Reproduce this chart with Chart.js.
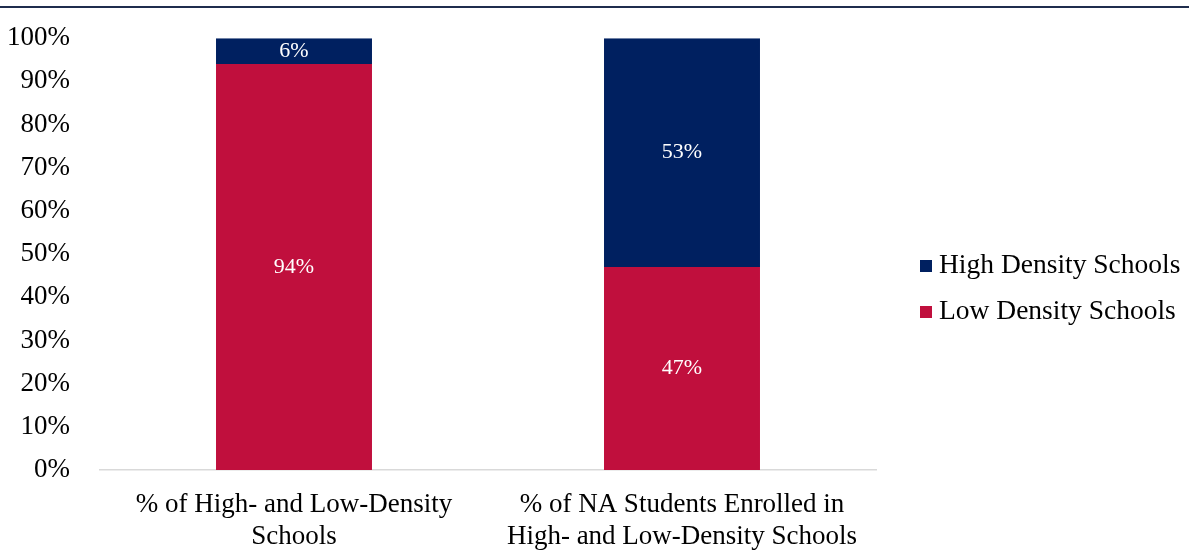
<!DOCTYPE html>
<html>
<head>
<meta charset="utf-8">
<script src="https://cdn.jsdelivr.net/npm/chart.js@4/dist/chart.umd.min.js"></script>
<style>
  html, body { margin: 0; padding: 0; background: #fff; }
  #wrap { position: relative; width: 1189px; height: 552px; }
</style>
</head>
<body>
<div id="wrap"><canvas id="myChart" width="1189" height="552"></canvas></div>
<script>
// categories and stacked shares (percent)
categories = [
  ['% of High- and Low-Density', 'Schools'],
  ['% of NA Students Enrolled in', 'High- and Low-Density Schools']
];
low_density = [94, 47];
high_density = [6, 53];
y_ticks = [0, 10, 20, 30, 40, 50, 60, 70, 80, 90, 100];

const FONT = "'Liberation Serif', 'Times New Roman', serif";
const LOW_COLOR = '#C00F3D';
const HIGH_COLOR = '#002060';

// white value labels centred in each segment
const segmentLabels = {
  id: 'segmentLabels',
  afterDatasetsDraw(chart) {
    const ctx = chart.ctx;
    ctx.save();
    ctx.fillStyle = '#fff';
    ctx.font = '22px ' + FONT;
    ctx.textAlign = 'center';
    ctx.textBaseline = 'middle';
    chart.data.datasets.forEach(function(ds, i) {
      chart.getDatasetMeta(i).data.forEach(function(bar, j) {
        const mid = (bar.y + bar.base) / 2;
        ctx.fillText(ds.data[j] + '%', bar.x, mid);
      });
    });
    ctx.restore();
  }
};

// legend on the right, high density listed first
const sideLegend = {
  id: 'sideLegend',
  afterDraw(chart) {
    const ctx = chart.ctx;
    const items = chart.data.datasets.slice().reverse();
    ctx.save();
    ctx.font = '27.5px ' + FONT;
    ctx.textBaseline = 'middle';
    ctx.textAlign = 'left';
    items.forEach(function(ds, i) {
      const cy = 266 + i * 46;
      ctx.fillStyle = ds.backgroundColor;
      ctx.fillRect(920, cy - 6, 12, 12);
      ctx.fillStyle = '#000';
      ctx.fillText(ds.label, 939, cy);
    });
    // thin rule along the top edge
    ctx.strokeStyle = '#1F2D4D';
    ctx.lineWidth = 2;
    ctx.beginPath();
    ctx.moveTo(0, 7);
    ctx.lineTo(chart.width, 7);
    ctx.stroke();
    ctx.restore();
  }
};

const data = {
  labels: categories,
  datasets: [{
    label: 'Low Density Schools',
    data: low_density,
    backgroundColor: LOW_COLOR,
    categoryPercentage: 1,
    barPercentage: 0.402
  },
  {
    label: 'High Density Schools',
    data: high_density,
    backgroundColor: HIGH_COLOR,
    categoryPercentage: 1,
    barPercentage: 0.402
  }]
};

const config = {
  type: 'bar',
  data: data,
  options: {
    responsive: false,
    animation: false,
    layout: {
      padding: { left: 0, right: 313, top: 28, bottom: 0 }
    },
    plugins: {
      legend: { display: false },
      tooltip: { enabled: false }
    },
    scales: {
      x: {
        stacked: true,
        grid: { display: false },
        border: { display: true, color: '#D9D9D9', width: 1.5 },
        ticks: {
          color: '#000',
          font: { family: FONT, size: 27, lineHeight: 1.19 },
          padding: 11,
          maxRotation: 0,
          autoSkip: false
        },
        afterFit: function(scale) { scale.height = 82; }
      },
      y: {
        stacked: true,
        min: 0,
        max: 100,
        grid: { display: false },
        border: { display: false },
        afterBuildTicks: function(scale) {
          scale.ticks = y_ticks.map(function(v) { return { value: v }; });
        },
        ticks: {
          color: '#000',
          font: { family: FONT, size: 27 },
          padding: 22,
          callback: function(v) { return v + '%'; }
        },
        afterFit: function(scale) { scale.width = 100; }
      }
    }
  },
  plugins: [segmentLabels, sideLegend]
};

const myChart = new Chart(document.getElementById('myChart'), config);
</script>
</body>
</html>
